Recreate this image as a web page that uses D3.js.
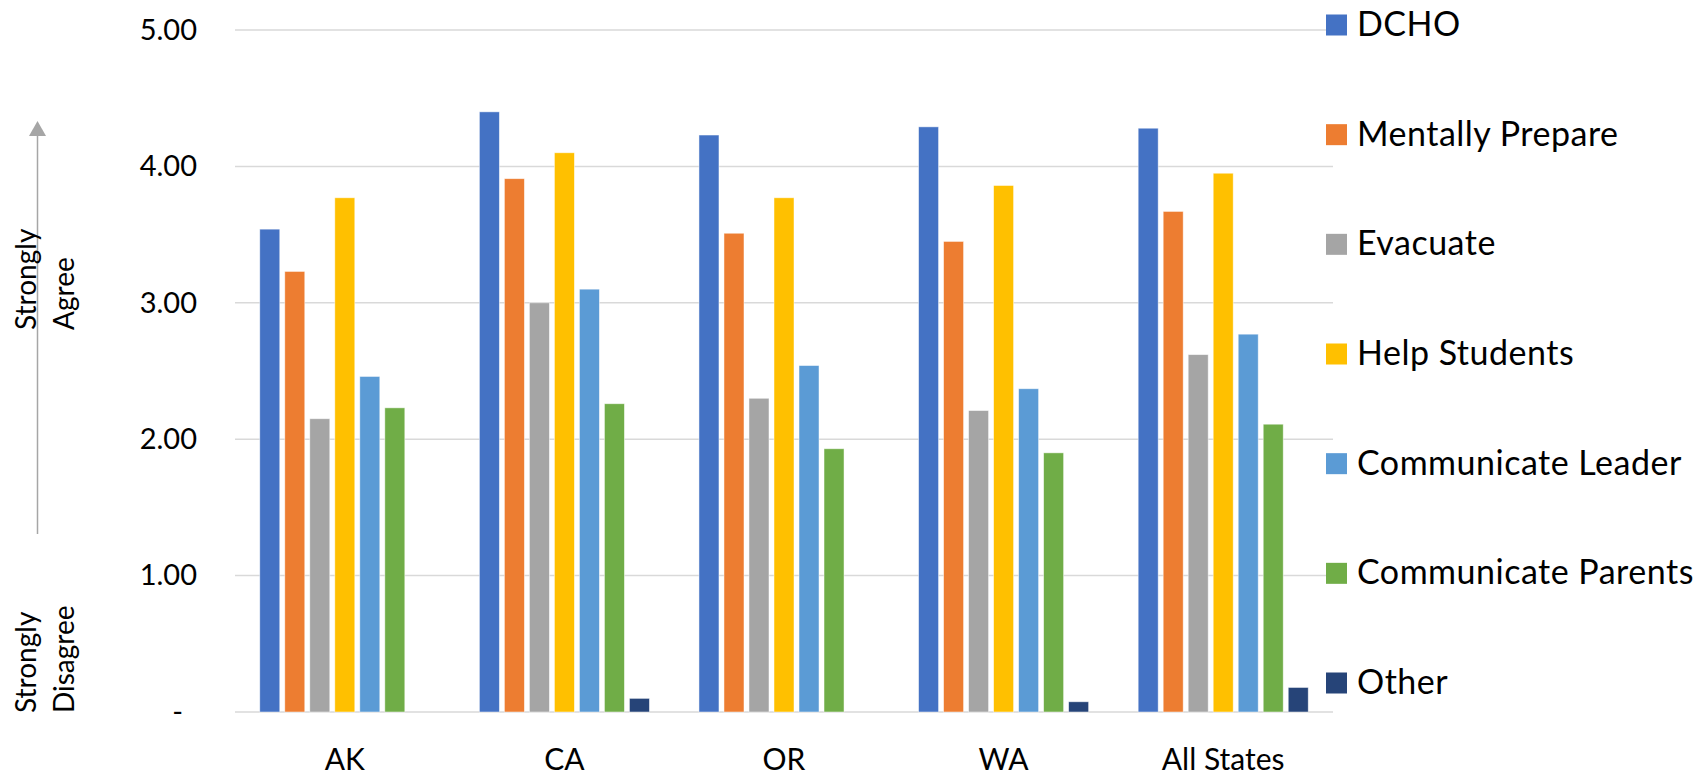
<!DOCTYPE html>
<html>
<head>
<meta charset="utf-8">
<script src="https://cdn.jsdelivr.net/npm/d3@7"></script>
<style>
  html, body { margin: 0; padding: 0; background: #fff; }
  svg { display: block; font-family: Lato, "Open Sans", sans-serif; }
</style>
</head>
<body>
<svg id="chart" width="1698" height="776"></svg>
<script>
const categories = ["AK", "CA", "OR", "WA", "All States"];
const seriesNames = ["DCHO", "Mentally Prepare", "Evacuate", "Help Students", "Communicate Leader", "Communicate Parents", "Other"];
const seriesColors = ["#4472C4", "#ED7D31", "#A5A5A5", "#FFC000", "#5B9BD5", "#70AD47", "#264478"];
const DCHO = [3.54, 4.40, 4.23, 4.29, 4.28];
const mentallyPrepare = [3.23, 3.91, 3.51, 3.45, 3.67];
const evacuate = [2.15, 3.00, 2.30, 2.21, 2.62];
const helpStudents = [3.77, 4.10, 3.77, 3.86, 3.95];
const communicateLeader = [2.46, 3.10, 2.54, 2.37, 2.77];
const communicateParents = [2.23, 2.26, 1.93, 1.90, 2.11];
const other = [0, 0.10, 0, 0.075, 0.18];
const yTicks = [0, 1, 2, 3, 4, 5];

const seriesValues = [DCHO, mentallyPrepare, evacuate, helpStudents, communicateLeader, communicateParents, other];

const svg = d3.select("#chart");
const plot = { left: 235, right: 1333, top: 30, bottom: 712 };

const x0 = d3.scaleBand().domain(categories).range([plot.left, plot.right])
  .paddingInner(0.18).paddingOuter(0.09);
const x1 = d3.scaleBand().domain(seriesNames).range([0, x0.bandwidth()]).padding(0.2);
const y = d3.scaleLinear().domain([0, 5]).range([plot.bottom, plot.top]);

// gridlines
svg.append("g").selectAll("line").data(yTicks).join("line")
  .attr("x1", plot.left).attr("x2", plot.right)
  .attr("y1", d => y(d)).attr("y2", d => y(d))
  .attr("stroke", "#d9d9d9").attr("stroke-width", 1.5);

// y axis labels
const yAxis = svg.append("g").attr("transform", `translate(${plot.left},0)`)
  .call(d3.axisLeft(y).tickValues(yTicks).tickSize(0).tickPadding(38)
    .tickFormat(d => d === 0 ? "-" : d.toFixed(2)));
yAxis.select(".domain").remove();
yAxis.selectAll("text").attr("font-size", 29).attr("fill", "#000")
  .attr("font-family", "Lato, 'Open Sans', sans-serif");
yAxis.selectAll(".tick").filter(d => d === 0).select("text").attr("x", -52);

// bars
const groups = svg.append("g").selectAll("g").data(categories).join("g")
  .attr("transform", c => `translate(${x0(c)},0)`);
groups.selectAll("rect")
  .data((c, ci) => seriesNames.map((s, si) => ({ s, si, v: seriesValues[si][ci] })))
  .join("rect")
  .filter(d => d.v > 0)
  .attr("x", d => x1(d.s))
  .attr("width", x1.bandwidth())
  .attr("y", d => y(d.v))
  .attr("height", d => y(0) - y(d.v))
  .attr("fill", d => seriesColors[d.si])
  .attr("stroke", "#ffffff").attr("stroke-opacity", 0.6).attr("stroke-width", 0.8);

// x axis labels
const xAxis = svg.append("g").attr("transform", `translate(0,${plot.bottom})`)
  .call(d3.axisBottom(x0).tickSize(0).tickPadding(0));
xAxis.select(".domain").remove();
xAxis.selectAll("text").attr("font-size", 30).attr("fill", "#000")
  .attr("font-family", "Lato, 'Open Sans', sans-serif")
  .attr("dy", null).attr("y", 58);

// legend
const legend = svg.append("g");
const legendY = d3.scalePoint().domain(seriesNames).range([25, 683]);
const li = legend.selectAll("g").data(seriesNames).join("g")
  .attr("transform", d => `translate(1326,${legendY(d)})`);
li.append("rect").attr("x", 0).attr("y", -10.5).attr("width", 21).attr("height", 21)
  .attr("fill", (d, i) => seriesColors[i]);
li.append("text").attr("x", 31).attr("y", 11).attr("font-size", 34)
  .attr("letter-spacing", 0.5).attr("fill", "#000")
  .text(d => d);

// left annotation arrow
const ann = svg.append("g");
ann.append("line").attr("x1", 37.5).attr("x2", 37.5).attr("y1", 534).attr("y2", 136)
  .attr("stroke", "#a6a6a6").attr("stroke-width", 1.5);
ann.append("path").attr("d", "M29,136 L37.5,121 L46,136 Z").attr("fill", "#a6a6a6");

const annTexts = [
  { t: "Strongly", x: 36, y: 330 },
  { t: "Agree", x: 74, y: 330 },
  { t: "Strongly", x: 36, y: 713 },
  { t: "Disagree", x: 74, y: 713 }
];
ann.selectAll("text").data(annTexts).join("text")
  .attr("transform", d => `translate(${d.x},${d.y}) rotate(-90)`)
  .attr("font-size", 28).attr("fill", "#000").text(d => d.t);
</script>
</body>
</html>
